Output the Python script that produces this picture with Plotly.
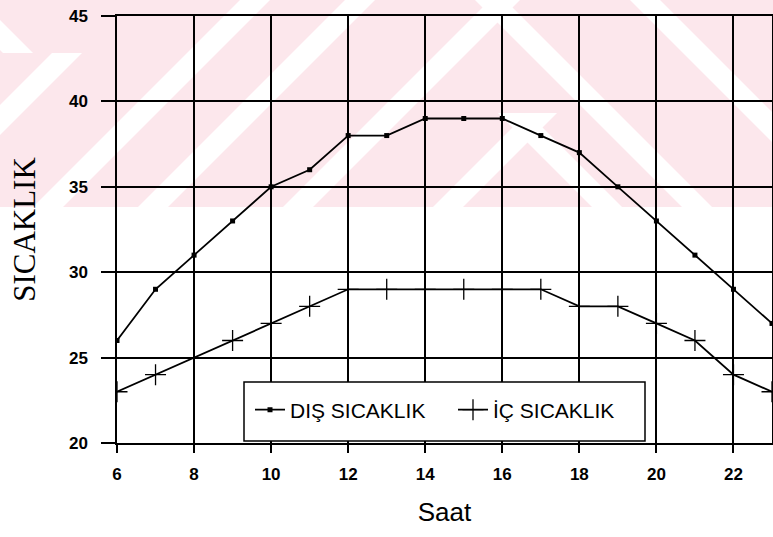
import plotly.graph_objects as go

# ---- data ----
saat = [6, 7, 8, 9, 10, 11, 12, 13, 14, 15, 16, 17, 18, 19, 20, 21, 22, 23]
dis_sicaklik = [26, 29, 31, 33, 35, 36, 38, 38, 39, 39, 39, 38, 37, 35, 33, 31, 29, 27]
ic_sicaklik = [23, 24, 25, 26, 27, 28, 29, 29, 29, 29, 29, 29, 28, 28, 27, 26, 24, 23]
x_ticks = [6, 8, 10, 12, 14, 16, 18, 20, 22]
y_ticks = [20, 25, 30, 35, 40, 45]

W, H = 773, 537
# plot area in pixels: left 117, top 16, right 772, bottom 443
L, T, R, B = 117, 16, 1, 94
PW, PH = W - L - R, H - T - B

def px(x):
    return (x - L) / PW

def py(y):
    return (H - B - y) / PH

def path(points):
    return "M " + " L ".join(f"{px(a):.4f},{py(b):.4f}" for a, b in points) + " Z"

PINK = "rgb(252,231,236)"
band_bottom = 207
shapes = [dict(type="path", xref="paper", yref="paper", layer="below",
               path=path([(-10, -5), (W + 20, -5), (W + 20, band_bottom), (-10, band_bottom)]),
               fillcolor=PINK, line=dict(width=0))]

sw = 30  # stripe horizontal width

def slash(c, y0=-5, y1=band_bottom):
    # "/" stripe: x + y = c
    return [(c - y0, y0), (c - y0 + sw, y0), (c - y1 + sw, y1), (c - y1, y1)]

def bslash(c, y0=-5, y1=band_bottom):
    # "\" stripe: x - y = c
    return [(c + y0 - sw, y0), (c + y0, y0), (c + y1, y1), (c + y1 - sw, y1)]

white_polys = [
    bslash(-20, -5, 53), slash(105, 53, band_bottom),
    slash(240), slash(345), slash(490, -5, band_bottom), bslash(505, -5, band_bottom),
    slash(640, 113, band_bottom), bslash(415, 113, band_bottom),
    bslash(660, -5, band_bottom),
]
for poly in white_polys:
    shapes.append(dict(type="path", xref="paper", yref="paper", layer="below",
                       path=path(poly), fillcolor="white", line=dict(width=0)))

# legend box
shapes.append(dict(type="rect", xref="paper", yref="paper", layer="above",
                   x0=px(244), x1=px(645), y0=py(441), y1=py(382),
                   fillcolor="white", line=dict(color="black", width=1.5)))

fig = go.Figure()
fig.add_trace(go.Scatter(
    x=saat, y=dis_sicaklik, name="DIŞ SICAKLIK", mode="lines+markers",
    line=dict(color="black", width=1.8),
    marker=dict(symbol="square", size=5, color="black"),
))
fig.add_trace(go.Scatter(
    x=saat, y=ic_sicaklik, name="İÇ SICAKLIK", mode="lines+markers",
    line=dict(color="black", width=1.8),
    marker=dict(symbol="cross-thin", size=15, line=dict(color="black", width=1.3)),
))

tickfont = dict(family="Liberation Sans, Arial, sans-serif", size=17, color="black", weight="bold")

fig.update_layout(
    width=W, height=H,
    margin=dict(l=L, r=R, t=T, b=B, autoexpand=False),
    paper_bgcolor="white", plot_bgcolor="rgba(0,0,0,0)",
    shapes=shapes,
    showlegend=True,
    legend=dict(orientation="h", x=px(250), xanchor="left", y=py(410), yanchor="middle",
                bgcolor="rgba(0,0,0,0)", borderwidth=0,
                font=dict(family="Liberation Sans, Arial, sans-serif", size=21, color="black"),
                entrywidth=158, itemwidth=30, tracegroupgap=0),
    xaxis=dict(range=[6, 23], tickvals=x_ticks, ticks="outside", ticklen=8, tickwidth=1.5,
               tickcolor="black", showgrid=True, gridcolor="black", gridwidth=1.5,
               showline=True, linecolor="black", linewidth=1.5, mirror=True, automargin=False,
               zeroline=False, tickfont=tickfont, ticklabelstandoff=7,
               title=dict(text="Saat", font=dict(family="Liberation Sans, Arial, sans-serif", size=26, color="black"),
                          standoff=20)),
    yaxis=dict(range=[20, 45], tickvals=y_ticks, ticks="outside", ticklen=14, tickwidth=1.5,
               tickcolor="black", showgrid=True, gridcolor="black", gridwidth=1.5,
               showline=True, linecolor="black", linewidth=1.5, mirror=True, automargin=False,
               zeroline=False, tickfont=tickfont, ticklabelstandoff=10,
               title=dict(text="SICAKLIK", font=dict(family="Liberation Serif, Times New Roman, serif", size=31, color="black"),
                          standoff=24)),
)

fig.write_html("out.html", config={"displayModeBar": False},
               post_script="document.body.style.margin='0';document.body.style.overflow='hidden';")
